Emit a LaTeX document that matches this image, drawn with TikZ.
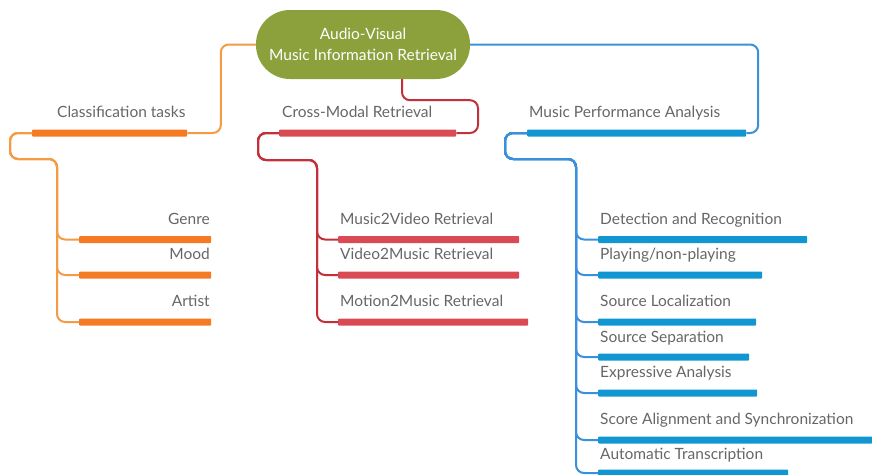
\documentclass[tikz,border=0pt]{standalone}
\usepackage{fontspec}
\setmainfont{Lato}
\begin{document}
\begin{tikzpicture}[x=1pt,y=-1pt,
  root/.style={rounded corners=34pt, fill=rootgreen, text=white, align=center, font=\fontsize{15.5}{22}\selectfont, minimum width=214, minimum height=69, inner sep=0},
  lbl/.style={text=txtgray, font=\fontsize{15.5}{18}\selectfont, inner sep=0},
  bar/.style={minimum height=7, inner sep=0, anchor=west, rounded corners=0.8pt},
  obar/.style={bar, fill=obarc},
  rbar/.style={bar, fill=rbarc},
  bbar/.style={bar, fill=bbarc},
  oc/.style={draw=olinec, line width=2pt, rounded corners=8pt},
  rc/.style={draw=rlinec, line width=2pt, rounded corners=8pt},
  bc/.style={draw=blinec, line width=2pt, rounded corners=8pt}
]
\definecolor{rootgreen}{HTML}{8CA13B}
\definecolor{txtgray}{HTML}{666666}
\definecolor{obarc}{HTML}{F47A24}
\definecolor{olinec}{HTML}{F59A45}
\definecolor{rbarc}{HTML}{D94A55}
\definecolor{rlinec}{HTML}{C3303A}
\definecolor{bbarc}{HTML}{1296D2}
\definecolor{blinec}{HTML}{3A90DA}
\useasboundingbox (0,0) rectangle (872,474);

% root
\node[root] (root) at (363,44.5) {\raisebox{-1pt}{Audio-Visual}\\Music Information Retrieval};

% level-1 bars and labels
\node[obar, minimum width=155] (ct) at (32,133) {};
\node[lbl, anchor=base west] (ctl) at (57,117.8) {Classification tasks};
\node[rbar, minimum width=177] (cm) at (279,133) {};
\node[lbl, anchor=base west] (cml) at (282,117.8) {Cross-Modal Retrieval};
\node[bbar, minimum width=219] (mpa) at (527,133) {};
\node[lbl, anchor=base west] (mpal) at (529,117.8) {Music Performance Analysis};

% root connectors
\draw[oc] (root.west) -- ++(-35,0) |- (ct.east);
\draw[rc] ([xshift=39]root.south) -- ++(0,21) -- ++(76,0) |- (cm.east);
\draw[bc] (root.east) -- ++(288,0) |- (mpa.east);

% classification children
\node[obar, minimum width=132] (g) at (79,239.5) {};
\node[obar, minimum width=132] (m) at (79,275) {};
\node[obar, minimum width=132] (a) at (79,322) {};
\node[lbl, anchor=base east] (gl) at (210,224) {Genre};
\node[lbl, anchor=base east] (ml) at (210,259.5) {Mood};
\node[lbl, anchor=base east] (al) at (210,306.5) {Artist};
\foreach \t in {g,m,a}
  \draw[oc] (ct.west) -- ++(-22,0) -- ++(0,26) -- ++(47,0) |- (\t.west);

% cross-modal children
\node[rbar, minimum width=181] (mv) at (338,239.5) {};
\node[rbar, minimum width=181] (vm) at (338,275) {};
\node[rbar, minimum width=190] (mm) at (338,322) {};
\node[lbl, anchor=base west] (mvl) at (340,224) {Music2Video Retrieval};
\node[lbl, anchor=base west] (vml) at (340,259.5) {Video2Music Retrieval};
\node[lbl, anchor=base west] (mml) at (340,306.5) {Motion2Music Retrieval};
\foreach \t in {mv,vm,mm}
  \draw[rc] (cm.west) -- ++(-21,0) -- ++(0,27) -- ++(59,0) |- (\t.west);

% performance analysis children
\node[bbar, minimum width=209] (dr) at (598,239.5) {};
\node[bbar, minimum width=164] (pn) at (598,275) {};
\node[bbar, minimum width=158] (sl) at (598,322) {};
\node[bbar, minimum width=151] (ss) at (598,357) {};
\node[bbar, minimum width=159] (ea) at (598,393) {};
\node[bbar, minimum width=274] (sa) at (598,440) {};
\node[bbar, minimum width=190] (at) at (598,473) {};
\node[lbl, anchor=base west] (drl) at (600,224) {Detection and Recognition};
\node[lbl, anchor=base west] (pnl) at (600,259.5) {Playing/non-playing};
\node[lbl, anchor=base west] (sll) at (600,306.5) {Source Localization};
\node[lbl, anchor=base west] (ssl) at (600,342) {Source Separation};
\node[lbl, anchor=base west] (eal) at (600,377.5) {Expressive Analysis};
\node[lbl, anchor=base west] (sal) at (600,424.5) {Score Alignment and Synchronization};
\node[lbl, anchor=base west] (atl) at (600,459.5) {Automatic Transcription};
\foreach \t in {dr,pn,sl,ss,ea,sa,at}
  \draw[bc] (mpa.west) -- ++(-22,0) -- ++(0,26) -- ++(71,0) |- (\t.west);
\end{tikzpicture}
\end{document}
